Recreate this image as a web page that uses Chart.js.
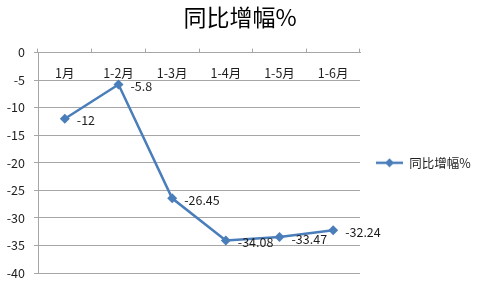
<!DOCTYPE html>
<html>
<head>
<meta charset="utf-8">
<title>同比增幅%</title>
<script src="https://cdn.jsdelivr.net/npm/chart.js"></script>
<style>
  html, body { margin: 0; padding: 0; background: #fff; }
</style>
</head>
<body>
<canvas id="chart" width="480" height="283"></canvas>
<script>
// 数据
var months = ['1月', '1-2月', '1-3月', '1-4月', '1-5月', '1-6月'];
var growth = [-12, -5.8, -26.45, -34.08, -33.47, -32.24];
var seriesName = '同比增幅%';
var yMin = -40, yMax = 0, yStep = 5;

var blue = 'rgb(74,126,187)';
var gridGray = '#a6a6a6';
var textColor = '#1e1e1e';
var fontFamily = '"Noto Sans CJK SC", "Noto Sans", sans-serif';
var fontSize = 12.5;

// legend icon: line with a diamond in the middle (left part kept blank)
var icon = document.createElement('canvas');
icon.width = 33; icon.height = 10;
(function() {
    var c = icon.getContext('2d');
    c.strokeStyle = blue;
    c.lineWidth = 2.5;
    c.beginPath(); c.moveTo(6, 5); c.lineTo(33, 5); c.stroke();
    c.fillStyle = blue;
    c.beginPath();
    c.moveTo(19.5, 0.5); c.lineTo(24, 5); c.lineTo(19.5, 9.5); c.lineTo(15, 5);
    c.closePath(); c.fill();
})();

// category labels sit just under the 0 line, values to the right of each point
var pointLabels = {
    id: 'pointLabels',
    afterLayout: function(chart) {
        // keep the legend centred on the plot area, as in the original
        if (chart.legend) {
            chart.legend.top = chart.chartArea.top;
            chart.legend.bottom = chart.chartArea.bottom;
            chart.legend.height = chart.chartArea.bottom - chart.chartArea.top;
        }
    },
    afterDatasetsDraw: function(chart) {
        var ctx = chart.ctx;
        var xs = chart.scales.x;
        var meta = chart.getDatasetMeta(0);
        ctx.save();
        ctx.font = fontSize + 'px ' + fontFamily;
        ctx.fillStyle = textColor;
        ctx.textBaseline = 'middle';
        ctx.textAlign = 'center';
        months.forEach(function(m, i) {
            ctx.fillText(m, xs.getPixelForTick(i), chart.chartArea.top + 21);
        });
        ctx.textAlign = 'left';
        meta.data.forEach(function(pt, i) {
            ctx.fillText(String(growth[i]), pt.x + 12, pt.y + 2);
        });
        ctx.restore();
    }
};

new Chart(document.getElementById('chart'), {
    type: 'line',
    data: {
        labels: months,
        datasets: [{
            label: seriesName,
            data: growth,
            borderColor: blue,
            backgroundColor: blue,
            borderWidth: 2.5,
            pointStyle: 'rectRot',
            pointRadius: 5,
            pointBorderWidth: 0,
            tension: 0
        }]
    },
    options: {
        responsive: false,
        animation: false,
        layout: { padding: { top: 0, right: 0, bottom: 10, left: 0 } },
        plugins: {
            title: {
                display: true,
                text: seriesName,
                color: '#000',
                font: { family: fontFamily, size: 23, weight: 'normal' },
                padding: { top: 3, bottom: 18 }
            },
            legend: {
                position: 'right',
                labels: {
                    usePointStyle: true,
                    pointStyle: icon,
                    pointStyleWidth: 33,
                    color: textColor,
                    font: { family: fontFamily, size: fontSize },
                    padding: 10
                }
            },
            tooltip: { enabled: false }
        },
        scales: {
            x: {
                position: 'top',
                offset: true,
                grid: {
                    display: true,
                    offset: true,
                    drawOnChartArea: false,
                    drawTicks: true,
                    tickLength: 4,
                    color: gridGray
                },
                border: { display: true, color: gridGray },
                ticks: { display: false }
            },
            y: {
                min: yMin,
                max: yMax,
                afterFit: function(scale) {
                    scale.width = 38;
                    scale.paddingTop = 8;
                    scale.paddingBottom = 8;
                },
                grid: { color: gridGray, tickLength: 4 },
                border: { display: true, color: gridGray },
                ticks: {
                    stepSize: yStep,
                    color: textColor,
                    font: { family: fontFamily, size: fontSize },
                    padding: 9
                }
            }
        }
    },
    plugins: [pointLabels]
});
</script>
</body>
</html>
